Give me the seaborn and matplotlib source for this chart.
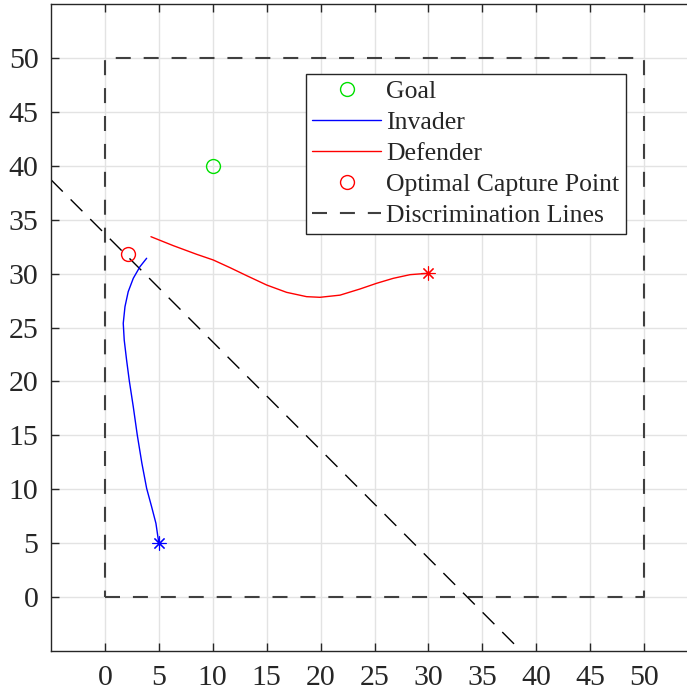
import numpy as np
import matplotlib
matplotlib.use("Agg")
import matplotlib.pyplot as plt
import seaborn as sns

sns.set_theme(style='whitegrid')
plt.rcParams['font.family'] = ['Liberation Serif', 'DejaVu Serif']

# data
goal = (10, 40)
capture = (2.16, 31.8)
invader_x = [5.0, 4.73, 4.33, 3.87, 3.43, 3.0, 2.63, 2.26, 2.01, 1.79, 1.70, 1.86,
             2.16, 2.63, 3.25, 3.87]
invader_y = [5.0, 6.84, 8.38, 10.08, 12.4, 15.03, 17.65, 20.07, 21.98, 23.84, 25.39,
             26.93, 28.32, 29.56, 30.64, 31.42]
defender_x = [30.0, 28.3, 26.74, 25.2, 23.65, 21.8, 19.94, 18.7, 16.85, 15.0, 13.14,
              11.6, 10.05, 8.50, 6.34, 4.27]
defender_y = [30.03, 29.9, 29.56, 29.1, 28.57, 28.0, 27.80, 27.86, 28.26, 28.94, 29.81,
              30.55, 31.26, 31.79, 32.59, 33.42]
box_x = [0, 50, 50, 0, 0]
box_y = [0, 0, 50, 50, 0]
disc_x = [-5, 38.6]
disc_y = [38.7, -5]
ticks = list(range(0, 55, 5))

fig = plt.figure(figsize=(6.87, 6.95), dpi=100)
ax = fig.add_axes([51 / 687, 44 / 695, 647 / 687, 647 / 695])

sns.lineplot(x=box_x, y=box_y, ax=ax, sort=False, estimator=None, color='#404040',
             lw=1.5, linestyle=(0, (7.2, 6.2)), label='Discrimination Lines')
sns.lineplot(x=disc_x, y=disc_y, ax=ax, sort=False, estimator=None, color='black',
             lw=1.0, linestyle=(0, (12, 8)))
sns.lineplot(x=invader_x, y=invader_y, ax=ax, sort=False, estimator=None,
             color='blue', lw=1.0, label='Invader')
sns.lineplot(x=defender_x, y=defender_y, ax=ax, sort=False, estimator=None,
             color='red', lw=1.0, label='Defender')
sns.lineplot(x=[goal[0]], y=[goal[1]], ax=ax, marker='o', ms=10, mfc='none',
             mec='#00e000', mew=1.0, linestyle='none', label='Goal')
sns.lineplot(x=[capture[0]], y=[capture[1]], ax=ax, marker='o', ms=10, mfc='none',
             mec='red', mew=1.0, linestyle='none', label='Optimal Capture Point')
sns.lineplot(x=[invader_x[0]], y=[invader_y[0]], ax=ax, marker=(8, 2, 0), ms=10,
             color='blue', mec='blue', mew=0.8, linestyle='none')
sns.lineplot(x=[defender_x[0]], y=[defender_y[0]], ax=ax, marker=(8, 2, 0), ms=10,
             color='red', mec='red', mew=0.8, linestyle='none')

ax.set_xlim(-5, 55)
ax.set_ylim(-5, 55)
ax.set_xticks(ticks)
ax.set_yticks(ticks)
ax.grid(True, color='#e3e3e3', lw=1.0)
ax.set_axisbelow(True)
for s in ax.spines.values():
    s.set_color('#262626')
    s.set_linewidth(1.0)
ax.tick_params(direction='in', length=6, width=1.0, color='#262626',
               labelsize=21.5, labelcolor='#262626', top=True, right=True,
               bottom=True, left=True)
ax.tick_params(axis='x', pad=10)
ax.tick_params(axis='y', pad=9)

h, l = ax.get_legend_handles_labels()
order = ['Goal', 'Invader', 'Defender', 'Optimal Capture Point', 'Discrimination Lines']
hd = dict(zip(l, h))
leg = ax.legend([hd[k] for k in order], order, loc='upper right',
                bbox_to_anchor=(626 / 687, 1 - 74 / 695), bbox_transform=fig.transFigure,
                borderaxespad=0, fontsize=18.5, frameon=True, fancybox=False,
                handlelength=2.7, handletextpad=0.2, labelspacing=0.31,
                borderpad=0.25)
leg.get_frame().set_edgecolor('#262626')
leg.get_frame().set_linewidth(1.0)
leg.get_frame().set_alpha(1)

fig.savefig('out.png', dpi=100)
